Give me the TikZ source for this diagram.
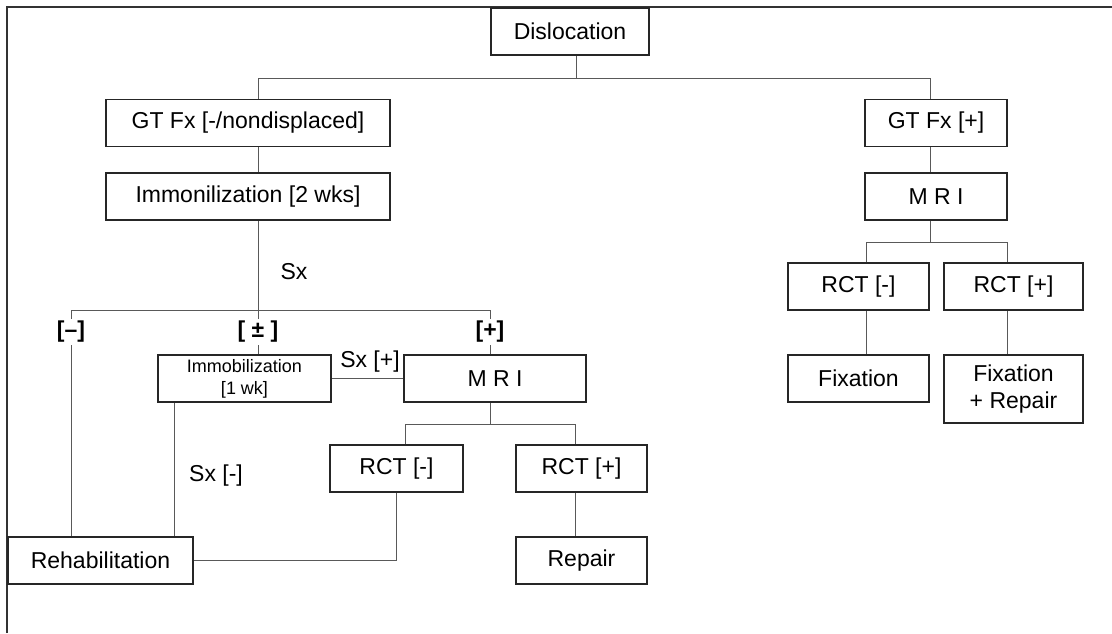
\documentclass[tikz,border=0pt]{standalone}
\usepackage{fontspec}
\setmainfont{Liberation Sans}
\usetikzlibrary{positioning, calc}

\begin{document}
\begin{tikzpicture}[x=0.5pt, y=-0.5pt, semithick,
  box/.style={draw=black!85, line width=0.75pt, shape=rectangle, minimum height=23.5pt, inner sep=0pt, align=center, font=\fontsize{11.5}{13.5}\selectfont},
  lbl/.style={font=\fontsize{11.5}{13.5}\selectfont, inner sep=0pt},
  sgn/.style={font=\fontsize{11.5}{13.5}\selectfont\bfseries, inner sep=1pt},
  conn/.style={draw=black!65, line width=0.5pt}]
  \useasboundingbox (0,0) rectangle (1112,633);
  \draw[black!80, line width=0.9pt] (7,633) -- (7,7) -- (1112,7);

  % boxes
  \node[box, minimum width=79pt] (disl) at (570,31.5) {Dislocation};
  \node[box, minimum width=142pt] (gtneg) at (248,123) {GT Fx [-/nondisplaced]};
  \node[box, minimum width=142pt] (immtwo) at (248,196.5) {Immonilization [2 wks]};
  \node[box, minimum width=71pt] (gtpos) at (936,123) {GT Fx [+]};
  \node[box, minimum width=71pt] (mrir) at (936,196.5) {M R I};
  \node[box, minimum width=70.5pt] (rctnr) at (858.5,286.5) {RCT [-]};
  \node[box, minimum width=69.5pt] (rctpr) at (1013.5,286.5) {RCT [+]};
  \node[box, minimum width=70.5pt] (fix) at (858.5,378.5) {Fixation};
  \node[box, minimum width=69.5pt, minimum height=34pt] (fixrep) at (1013.5,389) {Fixation\\+ Repair};
  \node[box, minimum width=86.5pt, font=\fontsize{9}{11}\selectfont] (immone) at (244.5,378.5) {Immobilization\\{}[1 wk]};
  \node[box, minimum width=91pt] (mril) at (495,378.5) {M R I};
  \node[box, minimum width=66.5pt] (rctnl) at (396.5,468.5) {RCT [-]};
  \node[box, minimum width=65.5pt] (rctpl) at (581.5,468.5) {RCT [+]};
  \node[box, minimum width=92.5pt] (rehab) at (100.5,560.5) {Rehabilitation};
  \node[box, minimum width=65.5pt] (repair) at (581.5,560.5) {Repair};

  % labels
  \node[lbl] (sx) at (294,272) {Sx};
  \node[lbl] (sxpos) at (370,362) {Sx [+]};
  \node[lbl] (sxneg) at (216,476) {Sx [-]};
  \node[sgn] (sneg) at (71,332) {[\textendash]};
  \node[sgn] (spm) at (258,332) {[ ± ]};
  \node[sgn] (spos) at (490,332) {[+]};

  \coordinate (jtop) at (576,78);
  \coordinate (jsx) at (258,310);
  \coordinate (jmri) at (490,424);
  \coordinate (jmrir) at (930,242);

  % connectors
  \draw[conn] (disl.south -| jtop) -- (jtop);
  \draw[conn] ([xshift=5pt]gtneg.north) |- ([xshift=-3pt]gtpos.north |- jtop) -- ([xshift=-3pt]gtpos.north);
  \draw[conn] ([xshift=5pt]gtneg.south) -- ([xshift=5pt]immtwo.north);
  \draw[conn] ([xshift=-3pt]gtpos.south) -- ([xshift=-3pt]mrir.north);
  \draw[conn] ([xshift=5pt]immtwo.south) -- (jsx);
  \draw[conn] (sneg.north) |- (spos.north |- jsx) -- (spos.north);
  \draw[conn] (spm.north) -- (jsx);
  \draw[conn] (spm.south) -- (spm.south |- immone.north);
  \draw[conn] (spos.south) -- (spos.south |- mril.north);
  \draw[conn] (sneg.south) -- (sneg.south |- rehab.north);
  \draw[conn] ([xshift=8.5pt]immone.south west) -- ([xshift=8.5pt]immone.south west |- rehab.north);
  \draw[conn] (immone.east) -- (mril.west);
  \draw[conn] (mril.south -| jmri) -- (jmri);
  \draw[conn] ([xshift=4.25pt]rctnl.north) |- ([xshift=-3.25pt]rctpl.north |- jmri) -- ([xshift=-3.25pt]rctpl.north);
  \draw[conn] ([xshift=-3.25pt]rctpl.south) -- ([xshift=-3.25pt]repair.north);
  \draw[conn] (rctnl.south) |- (rehab.east);
  \draw[conn] ([xshift=-3pt]mrir.south) -- (jmrir);
  \draw[conn] ([xshift=3.75pt]rctnr.north) |- ([xshift=-3.25pt]rctpr.north |- jmrir) -- ([xshift=-3.25pt]rctpr.north);
  \draw[conn] ([xshift=3.75pt]rctnr.south) -- ([xshift=3.75pt]fix.north);
  \draw[conn] ([xshift=-3.25pt]rctpr.south) -- ([xshift=-3.25pt]fixrep.north);
\end{tikzpicture}
\end{document}
